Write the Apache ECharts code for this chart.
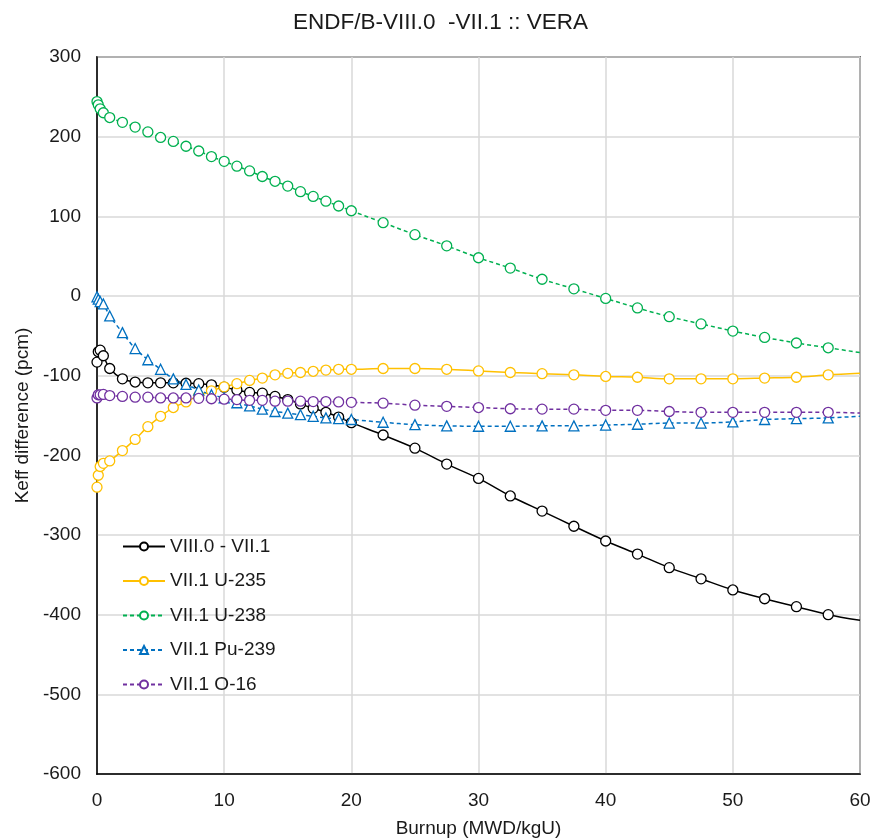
<!DOCTYPE html>
<html>
<head>
<meta charset="utf-8">
<script src="https://cdn.jsdelivr.net/npm/echarts@6/dist/echarts.min.js"></script>
<style>
  html, body { margin: 0; padding: 0; background: #fff; }
  #chart { width: 881px; height: 840px; }
</style>
</head>
<body>
<div id="chart"></div>
<script>
// Burnup steps (MWD/kgU)
const burnup = [0, 0.1, 0.25, 0.5, 1, 2, 3, 4, 5, 6, 7, 8, 9, 10, 11, 12, 13, 14, 15, 16, 17, 18, 19, 20,
  22.5, 25, 27.5, 30, 32.5, 35, 37.5, 40, 42.5, 45, 47.5, 50, 52.5, 55, 57.5, 60];

// Keff differences (pcm)
const viii0MinusVii1 = [-83, -70, -68, -75, -91, -104, -108, -109, -109, -109, -109.5, -110, -111.5, -114.5, -118, -121, -122, -126, -130, -135.5, -141, -146, -152, -159,
  -174.5, -191, -211, -229, -251, -270, -289, -307.5, -324, -341, -355, -369, -380, -390, -400, -407];
const vii1U235 = [-240, -225, -214, -210, -207, -194, -180, -164, -151, -140, -133, -125, -119, -114, -110, -106, -103, -99, -97, -96, -94.5, -93, -92, -92,
  -91, -91, -92, -94, -96, -97.5, -99, -101, -102, -104, -104, -104, -103, -102, -99, -97];
const vii1U238 = [244, 240, 235, 230, 224, 218, 212, 206, 199, 194, 188, 182, 175, 169, 163, 157, 150, 144, 138, 131, 125, 119, 113, 107,
  92, 77, 63, 48, 35, 21, 9, -3, -15, -26, -35, -44, -52, -59, -65, -71];
const vii1Pu239 = [-1, -4, -7, -10, -25, -46, -66, -80, -92, -104, -111, -118, -124, -128, -134, -138, -142, -145, -147, -149, -151, -153, -154, -155,
  -158.5, -161.5, -163, -163.5, -163.5, -163, -163, -162, -161, -159.5, -159.5, -158, -155, -154, -153, -151];
const vii1O16 = [-128, -124, -124, -123.5, -125, -126, -127, -127, -128, -128, -128, -128.5, -129, -129.5, -130, -131, -131, -132, -132, -132, -132.5, -132.5, -133, -133.5,
  -134.5, -137, -138.5, -140, -141.5, -142, -142, -143.5, -143.5, -145, -146, -146, -146, -146, -146, -147];

const seriesNames = ['VIII.0 - VII.1', 'VII.1 U-235', 'VII.1 U-238', 'VII.1 Pu-239', 'VII.1 O-16'];

const FONT = '"Liberation Sans", Arial, sans-serif';

function pairs(values) {
  return burnup.map((b, i) => [b, values[i]]);
}

function makeSeries(name, values, color, dashed, symbol) {
  return {
    name: name,
    type: 'line',
    data: pairs(values),
    smooth: 0.3,
    symbol: symbol,
    // the point at the right frame edge is drawn as line only
    symbolSize: (v) => (v[0] >= 60 ? 0 : 10),
    showAllSymbol: true,
    color: color,
    lineStyle: { color: color, width: 1.5, type: dashed ? [4, 3] : 'solid' },
    itemStyle: { color: '#fff', borderColor: color, borderWidth: 1.3 },
    emphasis: { disabled: true },
    animation: false
  };
}

const chart = echarts.init(document.getElementById('chart'), null, { renderer: 'canvas' });

chart.setOption({
  backgroundColor: '#fff',
  animation: false,
  title: {
    text: 'ENDF/B-VIII.0  -VII.1 :: VERA',
    left: 'center',
    top: 6,
    textStyle: { fontFamily: FONT, fontSize: 22.5, fontWeight: 'normal', color: '#1a1a1a' }
  },
  grid: {
    left: 97, right: 21, top: 57, bottom: 66,
    outerBoundsMode: 'none',
    containLabel: false,
    show: true, borderColor: '#000', borderWidth: 1.5
  },
  legend: {
    orient: 'vertical',
    left: 117,
    top: 532,
    itemWidth: 42,
    itemHeight: 10,
    itemGap: 15.5,
    data: seriesNames,
    textStyle: { fontFamily: FONT, fontSize: 19, color: '#1a1a1a', padding: [0, 0, 0, 0] }
  },
  xAxis: {
    type: 'value',
    min: 0, max: 60, interval: 10,
    name: 'Burnup (MWD/kgU)',
    nameLocation: 'middle',
    nameGap: 45,
    nameTextStyle: { fontFamily: FONT, fontSize: 19, color: '#1a1a1a' },
    axisLine: { show: true, onZero: false, lineStyle: { color: '#000', width: 1.5 } },
    axisTick: { show: false },
    axisLabel: { fontFamily: FONT, fontSize: 19, color: '#1a1a1a', margin: 17 },
    splitLine: { show: true, lineStyle: { color: '#d9d9d9', width: 1.5 } }
  },
  yAxis: {
    type: 'value',
    min: -600, max: 300, interval: 100,
    name: 'Keff difference (pcm)',
    nameLocation: 'middle',
    nameGap: 59,
    nameTextStyle: { fontFamily: FONT, fontSize: 19, color: '#1a1a1a' },
    axisLine: { show: true, onZero: false, lineStyle: { color: '#000', width: 1.5 } },
    axisTick: { show: false },
    axisLabel: { fontFamily: FONT, fontSize: 19, color: '#1a1a1a', margin: 16 },
    splitLine: { show: true, lineStyle: { color: '#d9d9d9', width: 1.5 } }
  },
  series: [
    makeSeries(seriesNames[0], viii0MinusVii1, '#000000', false, 'circle'),
    makeSeries(seriesNames[1], vii1U235, '#FFC000', false, 'circle'),
    makeSeries(seriesNames[2], vii1U238, '#00B050', true, 'circle'),
    makeSeries(seriesNames[3], vii1Pu239, '#0070C0', true, 'triangle'),
    makeSeries(seriesNames[4], vii1O16, '#7030A0', true, 'circle')
  ]
});
</script>
</body>
</html>
